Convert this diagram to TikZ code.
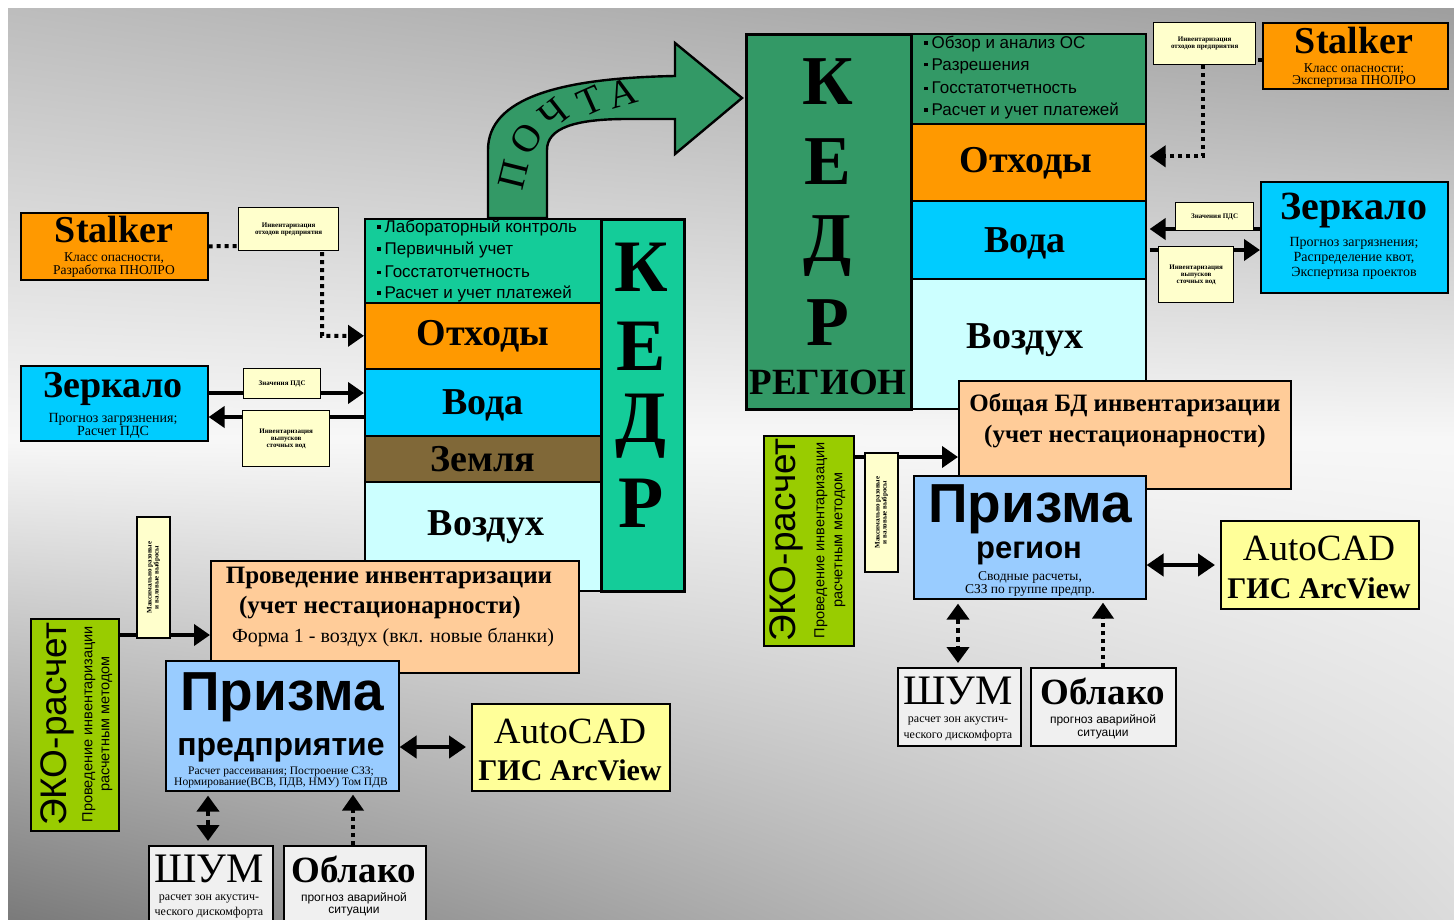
\documentclass[tikz,border=0pt]{standalone}
\usepackage{fontspec}
\setmainfont{Liberation Serif}
\setsansfont{Liberation Sans}
\usetikzlibrary{arrows.meta,shadings}
\definecolor{teal1}{RGB}{20,204,153}
\definecolor{green2}{RGB}{51,153,102}
\definecolor{orng}{RGB}{255,153,0}
\definecolor{cyn}{RGB}{0,204,255}
\definecolor{brwn}{RGB}{128,104,56}
\definecolor{lcyan}{RGB}{204,255,255}
\definecolor{peach}{RGB}{255,204,153}
\definecolor{lblue}{RGB}{153,204,255}
\definecolor{ygreen}{RGB}{153,204,0}
\definecolor{lyel}{RGB}{255,255,153}
\definecolor{labcol}{RGB}{255,255,204}
\definecolor{lgray}{RGB}{240,240,240}
\newcommand\fz[1]{\fontsize{#1}{#1}\selectfont}
\newcommand\sq{\raisebox{0.22em}{\rule{3.5pt}{3.5pt}}\hspace{4pt}}
\begin{document}
\begin{tikzpicture}[x=1pt,y=-1pt,
  box/.style={draw=black, line width=1.6pt, inner sep=0pt, anchor=north west},
  kbox/.style={box, line width=2.6pt},
  lab/.style={box, fill=labcol, line width=1.3pt, align=center, font=\fz{7}\bfseries},
  txt/.style={inner sep=0pt, align=center},
  big/.style={txt, font=\fz{38}\bfseries},
  letter/.style={txt, font=\fz{74}\bfseries},
  lst/.style={txt, anchor=west, font=\sffamily\fz{17}},
  pl/.style={txt, font=\fz{39}},
  arr/.style={line width=4pt, -{Triangle[length=16pt,width=21pt]}},
  darr/.style={line width=4.5pt, {Triangle[length=17pt,width=22pt]}-{Triangle[length=17pt,width=22pt]}},
  ddarr/.style={line width=4pt, dash pattern=on 5pt off 4pt, {Triangle[length=16pt,width=22pt]}-{Triangle[length=16pt,width=22pt]}},
  dotarr/.style={line width=4pt, dash pattern=on 4pt off 4pt, -{Triangle[length=16pt,width=21pt]}}
]
\useasboundingbox (0,0) rectangle (1454,919);
\fill[white] (0,0) rectangle (1454,919);
\shade[upper left=black!26, upper right=black!38, lower left=black!3, lower right=black!3] (8,8) rectangle (1454,440);
\shade[upper left=black!3, upper right=black!3, lower left=black!52, lower right=black!14] (8,440) rectangle (1454,919);

% ---------- ПОЧТА arrow ----------
\draw[fill=green2, line width=2.4pt, line join=miter]
  (488,218) -- (488,150) .. controls (488,98) and (560,78) .. (675,76)
  -- (675,43) -- (742,98) -- (675,154) -- (675,119) -- (627,119)
  .. controls (575,119) and (547,128) .. (547,150) -- (547,218) -- cycle;
\node[pl, rotate=76] (p1) at (514,175) {П};
\node[pl, rotate=57] (p2) at (526,139) {О};
\node[pl, rotate=38] (p3) at (554,114) {Ч};
\node[pl, rotate=24] (p4) at (590,101) {Т};
\node[pl, rotate=16] (p5) at (622,93) {А};

% ---------- left KEDR block ----------
\node[box, fill=teal1, minimum width=236, minimum height=84] (listL) at (364,218) {};
\node[lst] (l1) at (377,228) {\sq Лабораторный контроль};
\node[lst] (l2) at (377,250) {\sq Первичный учет};
\node[lst] (l3) at (377,272) {\sq Госстатотчетность};
\node[lst] (l4) at (377,294) {\sq Расчет и учет платежей};
\node[box, fill=orng, minimum width=236, minimum height=66] (otxL) at (364,302) {};
\node[big] at (otxL.center) {Отходы};
\node[box, fill=cyn, minimum width=236, minimum height=67] (vodaL) at (364,368) {};
\node[big] at ([yshift=-3]vodaL.center) {Вода};
\node[box, fill=brwn, minimum width=236, minimum height=46] (zemL) at (364,435) {};
\node[big] at (zemL.center) {Земля};
\node[box, fill=lcyan, minimum width=236, minimum height=109] (vozL) at (364,481) {};
\node[big] (vozLt) at (486,527) {Воздух};
\node[kbox, fill=teal1, minimum width=83, minimum height=372] (kedrL) at (600,218) {};
\node[letter] at (641,267) {К};
\node[letter] at (641,346) {Е};
\node[letter] at (641,426) {Д};
\node[letter] at (641,503) {Р};

% ---------- right KEDR block ----------
\node[box, fill=green2, minimum width=235, minimum height=90] (listR) at (910,33) {};
\node[lst] (r1) at (924,44) {\sq Обзор и анализ ОС};
\node[lst] (r2) at (924,66) {\sq Разрешения};
\node[lst] (r3) at (924,88) {\sq Госстатотчетность};
\node[lst] (r4) at (924,111) {\sq Расчет и учет платежей};
\node[box, fill=orng, minimum width=235, minimum height=77] (otxR) at (910,123) {};
\node[big] at (1026,163) {Отходы};
\node[box, fill=cyn, minimum width=235, minimum height=78] (vodaR) at (910,200) {};
\node[big] at (1025,243) {Вода};
\node[box, fill=lcyan, minimum width=235, minimum height=130] (vozR) at (910,278) {};
\node[big] at (1025,340) {Воздух};
\node[kbox, fill=green2, minimum width=165, minimum height=375] (kedrR) at (745,33) {};
\node[letter, font=\fz{70}\bfseries] at (828,82) {К};
\node[letter, font=\fz{70}\bfseries] at (828,162) {Е};
\node[letter, font=\fz{70}\bfseries] at (828,246) {Д};
\node[letter, font=\fz{70}\bfseries] at (828,323) {Р};
\node[txt, font=\fz{37}\bfseries] at (828,382) {РЕГИОН};

% ---------- left side satellites ----------
\node[box, fill=orng, minimum width=187, minimum height=67] (stalkerL) at (20,212) {};
\node[txt, font=\fz{38}\bfseries] at (114,229) {Stalker};
\node[txt, font=\fz{13.5}] at (114,258) {Класс опасности,};
\node[txt, font=\fz{13.5}] at (114,271) {Разработка ПНОЛРО};
\draw[dotarr] (stalkerL.east) -- (322,245.5) |- (otxL.west);
\node[lab, minimum width=100, minimum height=43] (labL1) at (238,207) {Инвентаризация\\отходов предприятия};

\node[box, fill=cyn, minimum width=187, minimum height=75] (zerkL) at (20,365) {};
\node[txt, font=\fz{38}\bfseries] at (113,389) {Зеркало};
\node[txt, font=\fz{14}] at (113,419) {Прогноз загрязнения;};
\node[txt, font=\fz{14}] at (113,432) {Расчет ПДС};
\draw[arr] (zerkL.east |- 0,393) -- (vodaL.west |- 0,393);
\draw[arr] (vodaL.west |- 0,417) -- (zerkL.east |- 0,417);
\node[lab, minimum width=77, minimum height=30] (labL2) at (243,368) {Значения ПДС};
\node[lab, minimum width=87, minimum height=56] (labL3) at (242,410) {Инвентаризация\\выпусков\\сточных вод};

% ---------- left bottom ----------
\node[box, fill=peach, minimum width=368, minimum height=112] (provL) at (210,560) {};
\node[txt, font=\fz{25}\bfseries] at (389,578) {Проведение инвентаризации};
\node[txt, font=\fz{25}\bfseries] at (380,608) {(учет нестационарности)};
\node[txt, font=\fz{20}] at (393,637) {Форма 1 - воздух (вкл. новые бланки)};

\node[box, fill=lblue, minimum width=233, minimum height=130] (prizL) at (165,660) {};
\node[txt, font=\sffamily\bfseries\fz{55}] at (282,697) {Призма};
\node[txt, font=\sffamily\bfseries\fz{32}] at (281,750) {предприятие};
\node[txt, font=\fz{11.5}] at (281,772) {Расчет рассеивания; Построение СЗЗ;};
\node[txt, font=\fz{11.5}] at (281,783) {Нормирование(ВСВ, ПДВ, НМУ) Том ПДВ};

\node[box, fill=ygreen, minimum width=88, minimum height=212] (ekoL) at (30,618) {};
\node[txt, rotate=90, font=\sffamily\fz{37}] at (57,724) {ЭКО-расчет};
\node[txt, rotate=90, font=\sffamily\fz{14.5}] at (89,724) {Проведение инвентаризации};
\node[txt, rotate=90, font=\sffamily\fz{14.5}] at (107,724) {расчетным методом};
\draw[arr] (ekoL.east |- 0,635) -- (provL.west |- 0,635);
\node[lab, rotate=90, anchor=center, minimum width=121, minimum height=33] (labVL) at (153.5,577.5) {Максимально разовые\\и валовые выбросы};

\node[box, fill=lyel, minimum width=198, minimum height=87] (acadL) at (471,703) {};
\node[txt, font=\fz{37}] at (570,731) {AutoCAD};
\node[txt, font=\fz{30}\bfseries] at (570,770) {ГИС ArcView};
\draw[darr] (prizL.east |- 0,747) -- ([xshift=-5]acadL.west |- 0,747);

\node[box, fill=lgray, minimum width=124, minimum height=80] (shumL) at (148,845) {};
\node[txt, font=\fz{42}] at (209,869) {ШУМ};
\node[txt, font=\fz{12}] at (209,899) {расчет зон акустич-};
\node[txt, font=\fz{12}] at (209,913) {ческого дискомфорта};
\node[box, fill=lgray, minimum width=142, minimum height=80] (oblL) at (283,845) {};
\node[txt, font=\fz{37}\bfseries] at (354,869) {Облако};
\node[txt, font=\sffamily\fz{12}] at (354,898) {прогноз аварийной};
\node[txt, font=\sffamily\fz{12}] at (354,912) {ситуации};
\draw[ddarr] ([yshift=-4]prizL.south -| 208,0) -- ([yshift=4]shumL.north -| 208,0);
\draw[dotarr] (oblL.north -| 353,0) -- ([yshift=-3]prizL.south -| 353,0);

% ---------- right side satellites ----------
\node[box, fill=orng, minimum width=185, minimum height=66] (stalkerR) at (1262,22) {};
\node[txt, font=\fz{38}\bfseries] at (1354,40) {Stalker};
\node[txt, font=\fz{13.5}] at (1354,69) {Класс опасности;};
\node[txt, font=\fz{13.5}] at (1354,81) {Экспертиза ПНОЛРО};
\draw[dotarr] (stalkerR.west |- 0,60) -- (1203,60) |- ([xshift=3,yshift=6]otxR.east);
\node[lab, minimum width=102, minimum height=42] (labR1) at (1153,22) {Инвентаризация\\отходов предприятия};

\node[box, fill=cyn, minimum width=187, minimum height=111] (zerkR) at (1260,181) {};
\node[txt, font=\fz{40}\bfseries] at (1354,211) {Зеркало};
\node[txt, font=\fz{14}] at (1354,243) {Прогноз загрязнения;};
\node[txt, font=\fz{14}] at (1354,258) {Распределение квот,};
\node[txt, font=\fz{14}] at (1354,273) {Экспертиза проектов};
\draw[arr] (zerkR.west |- 0,229) -- ([xshift=3]vodaR.east |- 0,229);
\draw[arr] ([xshift=3]vodaR.east |- 0,250) -- (zerkR.west |- 0,250);
\node[lab, minimum width=78, minimum height=28] (labR2) at (1175,202) {Значения ПДС};
\node[lab, minimum width=75, minimum height=56] (labR3) at (1158,246) {Инвентаризация\\выпусков\\сточных вод};

% ---------- right bottom ----------
\node[box, fill=peach, minimum width=332, minimum height=108] (bdR) at (958,380) {};
\node[txt, font=\fz{25}\bfseries] at (1125,405) {Общая БД инвентаризации};
\node[txt, font=\fz{25}\bfseries] at (1125,437) {(учет нестационарности)};

\node[box, fill=lblue, minimum width=232, minimum height=123] (prizR) at (913,475) {};
\node[txt, font=\sffamily\bfseries\fz{55}] at (1030,509) {Призма};
\node[txt, font=\sffamily\bfseries\fz{31}] at (1029,553) {регион};
\node[txt, font=\fz{13.5}] at (1030,577) {Сводные расчеты,};
\node[txt, font=\fz{13.5}] at (1030,590) {СЗЗ по группе предпр.};

\node[box, fill=ygreen, minimum width=90, minimum height=210] (ekoR) at (763,435) {};
\node[txt, rotate=90, font=\sffamily\fz{37}] at (786,540) {ЭКО-расчет};
\node[txt, rotate=90, font=\sffamily\fz{14.5}] at (821,540) {Проведение инвентаризации};
\node[txt, rotate=90, font=\sffamily\fz{14.5}] at (840,540) {расчетным методом};
\draw[arr] (ekoR.east |- 0,457) -- (bdR.west |- 0,457);
\node[lab, rotate=90, anchor=center, minimum width=119, minimum height=33] (labVR) at (881.5,512.5) {Максимально разовые\\и валовые выбросы};

\node[box, fill=lyel, minimum width=198, minimum height=88] (acadR) at (1220,520) {};
\node[txt, font=\fz{37}] at (1319,548) {AutoCAD};
\node[txt, font=\fz{30}\bfseries] at (1319,588) {ГИС ArcView};
\draw[darr] (prizR.east |- 0,565) -- ([xshift=-5]acadR.west |- 0,565);

\node[box, fill=lgray, minimum width=123, minimum height=78] (shumR) at (897,667) {};
\node[txt, font=\fz{42}] at (958,691) {ШУМ};
\node[txt, font=\fz{12}] at (958,721) {расчет зон акустич-};
\node[txt, font=\fz{12}] at (958,736) {ческого дискомфорта};
\node[box, fill=lgray, minimum width=145, minimum height=78] (oblR) at (1030,667) {};
\node[txt, font=\fz{37}\bfseries] at (1103,691) {Облако};
\node[txt, font=\sffamily\fz{12}] at (1103,720) {прогноз аварийной};
\node[txt, font=\sffamily\fz{12}] at (1103,735) {ситуации};
\draw[ddarr] ([yshift=-4]prizR.south -| 958,0) -- ([yshift=4]shumR.north -| 958,0);
\draw[dotarr] (oblR.north -| 1103,0) -- ([yshift=-3]prizR.south -| 1103,0);
\end{tikzpicture}
\end{document}
